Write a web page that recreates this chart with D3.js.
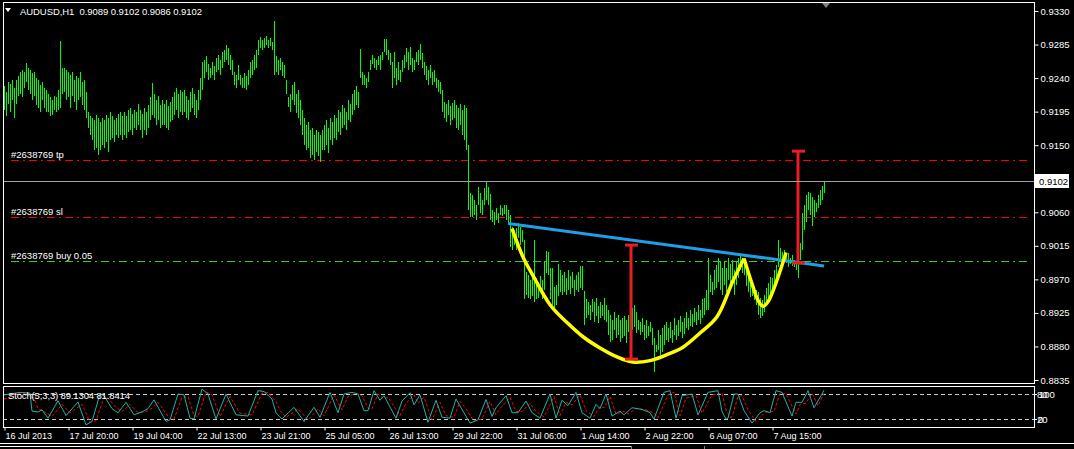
<!DOCTYPE html>
<html><head><meta charset="utf-8">
<script src="https://cdn.jsdelivr.net/npm/d3@7"></script>
<style>
html,body{margin:0;padding:0;background:#000;overflow:hidden}
svg{display:block}
text{font-family:"Liberation Sans",Arial,sans-serif;}
</style>
</head><body>
<svg id="c" width="1074" height="449"></svg>
<script>
// ---------- DATA (prices in pips, 1 pip = 0.0001) ----------
const highPips = [
9230,9222,9235,9232,9238,9227,9238,9243,9248,9251,
9248,9260,9254,9251,9247,9248,9240,9238,9231,9235,
9227,9224,9218,9214,9211,9216,9214,9224,9290,9254,
9254,9251,9248,9244,9248,9238,9243,9240,9248,9235,
9238,9222,9195,9189,9187,9184,9191,9187,9181,9187,
9184,9191,9187,9195,9189,9184,9187,9192,9195,9189,
9195,9189,9197,9200,9192,9197,9195,9205,9197,9192,
9200,9195,9204,9214,9234,9219,9211,9216,9204,9211,
9205,9211,9203,9208,9214,9222,9227,9219,9224,9222,
9224,9216,9211,9222,9227,9218,9211,9224,9240,9262,
9264,9270,9259,9254,9262,9256,9267,9271,9264,9275,
9278,9285,9281,9271,9264,9248,9244,9258,9244,9240,
9247,9243,9251,9262,9264,9271,9278,9291,9295,9291,
9294,9297,9291,9294,9289,9317,9269,9264,9267,9262,
9258,9238,9215,9218,9231,9235,9218,9224,9211,9197,
9187,9177,9181,9171,9173,9164,9171,9168,9164,9171,
9177,9184,9173,9187,9181,9191,9187,9197,9195,9204,
9200,9195,9211,9205,9218,9224,9230,9222,9279,9248,
9244,9240,9248,9264,9271,9267,9264,9270,9271,9275,
9293,9293,9278,9273,9262,9275,9254,9262,9251,9264,
9271,9281,9275,9282,9267,9264,9275,9278,9286,9274,
9262,9256,9251,9258,9248,9251,9240,9238,9235,9224,
9208,9205,9211,9203,9207,9211,9204,9200,9205,9197,
9204,9200,9150,9086,9083,9077,9070,9094,9086,9077,
9093,9100,9094,9085,9063,9061,9066,9059,9070,9066,
9070,9070,9063,9057,9040,9036,9039,9046,9040,9036,
9023,8980,8976,8969,8977,9023,8972,8967,8975,8969,
8994,9008,9007,8985,8985,8960,8963,8991,8983,8976,
8980,8972,8983,8975,8980,8969,8976,8980,8988,8988,
8955,8943,8940,8936,8943,8939,8945,8934,8940,8936,
8945,8936,8929,8922,8915,8926,8918,8922,8915,8918,
8921,8915,8922,8929,8932,8936,8926,8915,8913,8918,
8909,8915,8908,8913,8905,8892,8882,8902,8896,8905,
8909,8913,8905,8913,8902,8918,8909,8916,8921,8913,
8918,8926,8918,8929,8924,8932,8926,8936,8929,8943,
8945,8956,8999,8976,8967,8983,8989,8999,8994,8985,
8994,8985,8999,8991,8996,8983,8994,8999,9003,8999,
8994,8983,8973,8969,8963,8959,8956,8953,8945,8942,
8949,8959,8965,8973,8972,8983,8989,9023,9012,9007,
9009,9003,9006,8999,9003,8996,8994,8992,9019,9059,
9070,9083,9087,9086,9081,9077,9073,9083,9090,9095,9102];
const lowPips = [
9197,9189,9205,9195,9211,9187,9205,9216,9219,9214,
9227,9235,9224,9218,9211,9216,9204,9200,9195,9211,
9200,9195,9195,9189,9191,9197,9195,9197,9200,9218,
9222,9211,9214,9200,9216,9208,9197,9211,9214,9204,
9197,9187,9173,9164,9157,9144,9146,9137,9144,9150,
9146,9154,9141,9157,9160,9154,9164,9160,9164,9157,
9164,9160,9168,9171,9163,9173,9171,9177,9171,9160,
9171,9163,9173,9184,9191,9187,9177,9184,9173,9177,
9177,9173,9171,9181,9184,9191,9197,9187,9195,9191,
9195,9187,9184,9195,9200,9191,9187,9197,9211,9224,
9240,9248,9238,9240,9244,9238,9248,9251,9244,9254,
9262,9264,9258,9251,9244,9231,9227,9238,9231,9227,
9227,9224,9231,9240,9244,9251,9254,9271,9281,9278,
9281,9285,9281,9283,9278,9244,9248,9244,9251,9243,
9240,9218,9201,9195,9211,9204,9193,9187,9177,9164,
9150,9144,9146,9133,9137,9130,9141,9136,9128,9144,
9144,9150,9140,9157,9150,9160,9157,9168,9164,9173,
9177,9171,9184,9181,9191,9197,9204,9200,9240,9231,
9231,9227,9235,9251,9259,9254,9251,9258,9251,9264,
9275,9271,9264,9258,9227,9240,9231,9238,9235,9248,
9254,9262,9251,9258,9248,9251,9262,9258,9264,9254,
9244,9238,9231,9240,9231,9235,9227,9222,9218,9195,
9187,9181,9191,9177,9184,9187,9173,9171,9177,9164,
9157,9144,9063,9054,9053,9057,9050,9070,9059,9057,
9070,9077,9070,9050,9047,9043,9050,9045,9057,9055,
9058,9050,9043,9014,9010,9016,9010,9026,9016,9020,
8943,8949,8945,8943,8948,8940,8943,8945,8953,8943,
8956,8979,8976,8943,8936,8926,8936,8948,8953,8949,
8953,8949,8956,8951,8959,8948,8956,8953,8959,8956,
8909,8918,8922,8916,8926,8913,8921,8912,8918,8921,
8916,8913,8896,8886,8889,8902,8892,8896,8886,8892,
8894,8885,8900,8905,8902,8906,8898,8902,8896,8900,
8889,8892,8894,8900,8882,8846,8873,8875,8869,8873,
8882,8889,8886,8892,8885,8896,8889,8894,8900,8892,
8897,8905,8902,8908,8906,8913,8909,8916,8910,8918,
8922,8929,8929,8953,8949,8956,8959,8967,8956,8949,
8963,8953,8969,8956,8967,8949,8963,8972,8983,8979,
8976,8961,8953,8947,8948,8942,8936,8922,8918,8921,
8926,8936,8943,8943,8948,8956,8967,8987,8994,8990,
8994,8992,8986,8990,8988,8986,8983,8972,8996,9010,
9036,9047,9063,9057,9041,9053,9061,9066,9070,9077,9086];

const priceTicks = [9330,9285,9240,9195,9150,9060,9015,8970,8925,8880,8835];
const currentPrice = 9102;
const timeTickBars = [0,32,64,96,128,160,192,224,256,288,320,352,384];
const timeTickLabels = ["16 Jul 2013","17 Jul 20:00","19 Jul 04:00","22 Jul 13:00","23 Jul 21:00","25 Jul 05:00","26 Jul 13:00","29 Jul 22:00","31 Jul 06:00","1 Aug 14:00","2 Aug 22:00","6 Aug 07:00","7 Aug 15:00"];

const orderLevels = [9130, 9053, 8995];
const orderLabels = ["#2638769 tp", "#2638769 sl", "#2638769 buy 0.05"];
const orderColors = ["#ff0000", "#ff0000", "#32cd32"];

const stochKBars = [0,3,8,13,14,17,19,22,27,31,37,41,44,48,50,54,57,61,65,69,72,75,81,83,87,90,93,95,99,102,106,111,116,122,127,130,134,136,139,145,150,155,158,163,167,170,174,177,180,182,185,188,190,196,199,203,205,208,212,216,219,223,226,229,233,237,241,244,246,251,254,257,261,264,268,273,276,279,282,286,289,293,296,298,301,304,308,310,314,319,323,325,330,333,336,339,344,347,352,357,359,361,362,365,367,370,374,378,380,383,386,389,394,396,399,402,405,409,410];
const stochK = [78,80,84,82,39,37,42,22,64,28,61,6,14,80,76,45,35,60,30,37,45,66,14,18,80,78,22,20,92,80,20,80,30,27,88,86,68,35,20,48,14,48,24,84,35,80,84,80,40,40,88,65,76,22,63,83,54,78,12,65,24,22,68,43,10,18,67,26,47,76,35,35,63,35,22,80,22,65,52,84,35,22,55,45,80,27,39,30,47,43,35,20,84,88,22,76,80,30,84,88,38,20,22,80,80,40,10,35,40,35,88,84,27,60,60,88,47,80,89];
const stochDBars = [0,2,5,10,15,17,20,24,29,33,39,43,46,50,52,56,59,63,67,71,74,77,83,85,89,92,95,97,101,104,108,113,118,124,129,132,136,138,141,147,152,157,160,165,169,172,176,179,182,184,187,190,192,198,201,205,207,210,214,218,221,225,228,231,235,239,243,246,248,253,256,259,263,266,270,275,278,281,284,288,291,295,298,300,303,306,310,312,316,321,325,327,332,335,338,341,346,349,354,359,361,363,364,367,369,372,376,380,382,385,388,391,396,398,401,404,407,410];
const stochD = [68,70,79,82,70,45,38,26,55,35,55,12,16,72,70,48,38,55,35,38,46,60,20,20,72,74,28,26,85,78,26,74,34,30,82,84,62,40,24,44,18,44,28,78,42,74,82,76,46,44,80,68,72,28,58,78,58,72,18,60,28,24,62,45,14,20,62,30,45,72,38,38,58,38,25,74,28,60,54,78,40,26,50,47,74,32,38,32,45,42,34,23,78,84,28,70,76,34,78,82,42,24,25,74,76,42,14,33,38,38,82,80,32,55,58,82,52,82];
const stochLevels = [80, 20];

// drawn objects (bar index, pips)
const trendBars = [252, 410];
const trendPips = [9045, 8988];
const cupBars = [254,259.5,264.5,273,281.5,289.5,298,306.5,314.5,323,331.5,339.5,348,356.5,364.5,370];
const cupPips = [9038,9000,8975,8936,8912,8893,8878,8866,8859,8861,8869,8879,8898,8920,8968,8998];
const handleBars = [370,374.5,377,379.5,382,387,391];
const handlePips = [8998,8960,8942,8934,8940,8973,9006];
const measureBars = [313.5, 397];
const measureTop = [9016, 9142];
const measureBottom = [8863, 8992];

// ---------- DRAW ----------
const W = 1074, H = 449;
const svg = d3.select("#c");
svg.append("rect").attr("width", W).attr("height", H).attr("fill", "#000");

const fL = 3, fR = 1034, fT = 2, mainB = 383, subT = 386, subB = 427;
const x = d3.scaleLinear().domain([0, 410]).range([4, 824]);
const y = d3.scaleLinear().domain([8835, 9330]).range([380, 11]);
const ys = d3.scaleLinear().domain([0, 100]).range([427.3, 385.7]);
const px = v => Math.round(x(v)) + 0.5;

const defs = svg.append("defs");
defs.append("clipPath").attr("id", "mainClip").append("rect")
  .attr("x", fL + 1).attr("y", fT + 1).attr("width", fR - fL - 1).attr("height", mainB - fT - 1);
defs.append("clipPath").attr("id", "subClip").append("rect")
  .attr("x", fL + 1).attr("y", subT + 1).attr("width", fR - fL - 1).attr("height", subB - subT - 1);

const main = svg.append("g").attr("clip-path", "url(#mainClip)");

// order lines
orderLevels.forEach((lv, k) => {
  const yy = Math.round(y(lv)) + 0.5;
  main.append("line").attr("x1", fL + 8).attr("x2", 1031).attr("y1", yy).attr("y2", yy)
    .attr("stroke", orderColors[k]).attr("stroke-width", 1)
    .attr("shape-rendering", "crispEdges")
    .attr("stroke-dasharray", "8,4,2,4");
  main.append("text").attr("x", 11).attr("y", yy - 3).attr("fill", "#fff")
    .attr("font-size", 9.5).text(orderLabels[k]);
});

// current price line
{
  const yy = Math.round(y(currentPrice)) + 0.5;
  svg.append("line").attr("x1", fL).attr("x2", fR).attr("y1", yy).attr("y2", yy)
    .attr("stroke", "#a0a0a0").attr("stroke-width", 1).attr("shape-rendering", "crispEdges");
}

// bars
main.append("g").selectAll("line").data(highPips).join("line")
  .attr("x1", (d, i) => px(i)).attr("x2", (d, i) => px(i))
  .attr("y1", d => y(d)).attr("y2", (d, i) => y(lowPips[i]))
  .attr("stroke", "#00ff00").attr("stroke-width", 1)
  .attr("shape-rendering", "crispEdges");

// trendline
main.append("line")
  .attr("x1", x(trendBars[0])).attr("y1", y(trendPips[0]))
  .attr("x2", x(trendBars[1])).attr("y2", y(trendPips[1]))
  .attr("stroke", "#1ea0e6").attr("stroke-width", 3);

// cup & handle
const cupLine = d3.line().x(d => x(d[0])).y(d => y(d[1])).curve(d3.curveCatmullRom);
main.append("path").attr("d", cupLine(cupBars.map((b, i) => [b, cupPips[i]])))
  .attr("fill", "none").attr("stroke", "#ffff00").attr("stroke-width", 3.5);
main.append("path").attr("d", cupLine(handleBars.map((b, i) => [b, handlePips[i]])))
  .attr("fill", "none").attr("stroke", "#ffff00").attr("stroke-width", 3.5);

// measure bars
measureBars.forEach((b, k) => {
  const g = main.append("g").attr("stroke", "#ec1c24").attr("stroke-width", 3);
  g.append("line").attr("x1", x(b)).attr("x2", x(b)).attr("y1", y(measureTop[k])).attr("y2", y(measureBottom[k]));
  g.append("line").attr("x1", x(b) - 6).attr("x2", x(b) + 7).attr("y1", y(measureTop[k])).attr("y2", y(measureTop[k]));
  g.append("line").attr("x1", x(b) - 6).attr("x2", x(b) + 7).attr("y1", y(measureBottom[k])).attr("y2", y(measureBottom[k]));
});

// frames
svg.append("rect").attr("x", fL + 0.5).attr("y", fT + 0.5).attr("width", fR - fL).attr("height", mainB - fT)
  .attr("fill", "none").attr("stroke", "#fff").attr("shape-rendering", "crispEdges");
svg.append("rect").attr("x", fL + 0.5).attr("y", subT + 0.5).attr("width", fR - fL).attr("height", subB - subT)
  .attr("fill", "none").attr("stroke", "#fff").attr("shape-rendering", "crispEdges");

// title
svg.append("path").attr("d", "M5,8 L11,8 L8,12 Z").attr("fill", "#fff");
svg.append("text").attr("x", 20).attr("y", 15).attr("fill", "#fff").attr("font-size", 9.5)
  .attr("textLength", 182).attr("lengthAdjust", "spacing").style("white-space", "pre")
  .text("AUDUSD,H1  0.9089 0.9102 0.9086 0.9102");
// shift marker
svg.append("path").attr("d", "M822,3 L830,3 L826,8 Z").attr("fill", "#808080");

// right price axis
const yAxis = svg.append("g").attr("transform", `translate(${fR + 0.5},0)`)
  .call(d3.axisRight(y).tickValues(priceTicks).tickSize(4).tickPadding(2)
    .tickFormat(d => (d / 10000).toFixed(4)));
yAxis.select(".domain").remove();
yAxis.selectAll("line").attr("stroke", "#fff");
yAxis.selectAll("text").attr("fill", "#fff").attr("font-size", 9.5)
  .attr("font-family", "Liberation Sans, Arial, sans-serif");

// current price box
{
  const yy = Math.round(y(currentPrice));
  svg.append("rect").attr("x", fR + 1).attr("y", yy - 7).attr("width", 34).attr("height", 14).attr("fill", "#fff");
  svg.append("text").attr("x", fR + 5).attr("y", yy + 4).attr("fill", "#000").attr("font-size", 9.5)
    .text((currentPrice / 10000).toFixed(4));
}

// stochastic subwindow
const sub = svg.append("g").attr("clip-path", "url(#subClip)");
stochLevels.forEach(lv => {
  const yy = Math.round(ys(lv)) + 0.5;
  sub.append("line").attr("x1", fL).attr("x2", fR).attr("y1", yy).attr("y2", yy)
    .attr("stroke", "#c8c8c8").attr("stroke-dasharray", "4,3").attr("shape-rendering", "crispEdges");
});
const sLine = d3.line().x(d => x(d[0])).y(d => ys(d[1]));
sub.append("path").attr("d", sLine(stochDBars.map((b, i) => [b, stochD[i]])))
  .attr("fill", "none").attr("stroke", "#ff0000").attr("stroke-width", 1).attr("stroke-dasharray", "3,2");
sub.append("path").attr("d", sLine(stochKBars.map((b, i) => [b, stochK[i]])))
  .attr("fill", "none").attr("stroke", "#20b2aa").attr("stroke-width", 1);
svg.append("text").attr("x", 8).attr("y", 399).attr("fill", "#fff").attr("font-size", 9.5)
  .attr("textLength", 122).attr("lengthAdjust", "spacing")
  .text("Stoch(5,3,3) 89.1304 81.8414");

// stoch axis labels (overlapping as in terminal)
[[80, "100", 1039], [80, "80", 1037], [20, "20", 1037], [20, "0", 1038]].forEach(([lv, t, tx]) => {
  const yy = Math.round(ys(lv));
  svg.append("line").attr("x1", fR).attr("x2", fR + 3).attr("y1", yy + 0.5).attr("y2", yy + 0.5).attr("stroke", "#fff");
  svg.append("text").attr("x", tx).attr("y", yy + 4).attr("fill", "#fff").attr("font-size", 9.5).text(t);
});

// time axis
const xAxis = svg.append("g").attr("transform", `translate(0,${subB + 0.5})`)
  .call(d3.axisBottom(x).tickValues(timeTickBars).tickSize(3).tickPadding(2)
    .tickFormat((d, i) => timeTickLabels[i]));
xAxis.select(".domain").remove();
xAxis.selectAll("line").attr("stroke", "#fff").attr("transform", "translate(0.5,0)");
xAxis.selectAll("text").attr("fill", "#fff").attr("font-size", 9).attr("text-anchor", "start")
  .attr("dx", 1).attr("font-family", "Liberation Sans, Arial, sans-serif");

// status bar
svg.append("line").attr("x1", 0).attr("x2", W).attr("y1", 443.5).attr("y2", 443.5).attr("stroke", "#fff");
svg.append("line").attr("x1", 0).attr("x2", 631).attr("y1", 446.5).attr("y2", 446.5).attr("stroke", "#fff");
svg.append("line").attr("x1", 631.5).attr("x2", 631.5).attr("y1", 446).attr("y2", 449).attr("stroke", "#808080");
svg.append("line").attr("x1", 704.5).attr("x2", 704.5).attr("y1", 446).attr("y2", 449).attr("stroke", "#808080");
</script>
</body></html>
